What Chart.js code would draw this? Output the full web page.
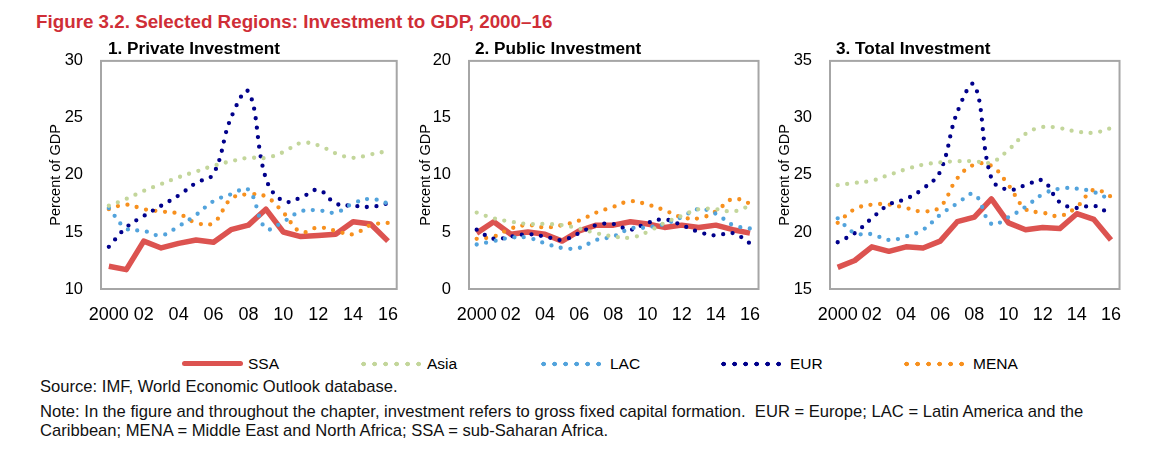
<!DOCTYPE html>
<html>
<head>
<meta charset="utf-8">
<script src="https://cdn.jsdelivr.net/npm/chart.js@4"></script>
<style>
  html, body { margin: 0; padding: 0; background: #ffffff; }
  body { width: 1161px; height: 452px; position: relative; overflow: hidden;
         font-family: 'Liberation Sans', Arial, sans-serif; color: #000; }
  .abs { position: absolute; white-space: nowrap; }
  canvas { position: absolute; }
  .title { left: 36px; top: 13px; font-size: 18.8px; line-height: 18.8px; font-weight: bold; color: #cf2e37; }
  .ptitle { top: 40px; font-size: 17.2px; line-height: 17.2px; font-weight: bold; }
  .leg { top: 356px; font-size: 15.5px; line-height: 15.5px; }
  .mk { position: absolute; top: 361px; height: 6px; }
  .note { left: 40px; font-size: 16.6px; line-height: 19px; color: #111; }
</style>
</head>
<body>
<canvas id="c1" width="376" height="302" style="left:37px;top:33px"></canvas>
<canvas id="c2" width="368" height="302" style="left:407px;top:33px"></canvas>
<canvas id="c3" width="370" height="302" style="left:766px;top:33px"></canvas>

<div class="abs title">Figure 3.2. Selected Regions: Investment to GDP, 2000–16</div>
<div class="abs ptitle" style="left:108px">1. Private Investment</div>
<div class="abs ptitle" style="left:475px">2. Public Investment</div>
<div class="abs ptitle" style="left:836px">3. Total Investment</div>

<div id="legend"></div>

<div class="abs note" style="top:377px">Source: IMF, World Economic Outlook database.</div>
<div class="abs note" style="top:402px">Note: In the figure and throughout the chapter, investment refers to gross fixed capital formation.&nbsp; EUR = Europe; LAC = Latin America and the<br>Caribbean; MENA = Middle East and North Africa; SSA = sub-Saharan Africa.</div>

<script>
// ---------- data ----------
const years = [2000, 2001, 2002, 2003, 2004, 2005, 2006, 2007, 2008, 2009, 2010, 2011, 2012, 2013, 2014, 2015, 2016];
const xTickValues = [2000, 2002, 2004, 2006, 2008, 2010, 2012, 2014, 2016];
const xTickLabels = ['2000', '02', '04', '06', '08', '10', '12', '14', '16'];
const seriesNames = ['SSA', 'Asia', 'LAC', 'EUR', 'MENA'];

// 1. Private investment (percent of GDP)
const ssaPriv  = [12.0, 11.7, 14.2, 13.6, 14.0, 14.3, 14.1, 15.2, 15.6, 17.0, 15.0, 14.6, 14.7, 14.8, 15.9, 15.7, 14.2];
const asiaPriv = [17.3, 17.9, 18.6, 19.2, 19.8, 20.3, 20.8, 21.2, 21.5, 21.5, 22.0, 22.8, 22.6, 21.9, 21.5, 21.8, 22.1];
const lacPriv  = [17.1, 15.3, 15.1, 14.7, 15.5, 16.5, 17.7, 18.3, 18.7, 15.3, 15.9, 16.8, 16.9, 16.7, 17.5, 17.9, 17.5];
const eurPriv  = [13.7, 15.4, 16.4, 17.3, 18.2, 19.3, 20.1, 25.0, 27.3, 19.7, 17.7, 18.0, 18.7, 17.5, 17.3, 17.2, 17.5];
const menaPriv = [17.0, 17.4, 17.0, 16.8, 16.6, 15.8, 15.8, 17.9, 18.3, 18.1, 16.7, 15.0, 15.4, 15.1, 14.8, 15.6, 15.8];

// 2. Public investment
const ssaPub  = [4.9, 5.9, 4.8, 5.0, 4.8, 4.2, 5.1, 5.6, 5.6, 5.9, 5.7, 5.4, 5.6, 5.4, 5.6, 5.2, 4.9];
const asiaPub = [6.7, 6.2, 5.9, 5.7, 5.7, 5.6, 5.3, 4.9, 4.6, 4.5, 5.0, 5.8, 6.4, 7.0, 7.0, 6.8, 7.3];
const lacPub  = [3.9, 4.2, 4.5, 4.5, 4.0, 3.6, 3.6, 4.3, 4.6, 5.3, 5.4, 5.7, 6.3, 7.0, 6.6, 5.6, 5.3];
const eurPub  = [5.2, 4.4, 4.6, 4.8, 4.6, 4.3, 4.9, 5.6, 5.7, 5.2, 5.8, 6.1, 5.6, 5.0, 4.7, 4.9, 4.0];
const menaPub = [4.4, 4.6, 5.3, 5.6, 5.4, 5.6, 6.0, 6.7, 7.2, 7.7, 7.4, 6.9, 6.3, 6.2, 6.8, 7.9, 7.5];

// 3. Total investment
const ssaTot  = [16.9, 17.5, 18.7, 18.3, 18.7, 18.6, 19.2, 20.9, 21.3, 22.9, 20.8, 20.2, 20.4, 20.3, 21.6, 21.1, 19.3];
const asiaTot = [24.1, 24.3, 24.5, 25.0, 25.5, 25.9, 26.1, 26.2, 26.2, 26.1, 27.2, 28.6, 29.2, 29.1, 28.8, 28.7, 29.1];
const lacTot  = [21.2, 19.9, 19.8, 19.3, 19.6, 20.2, 21.5, 22.5, 23.3, 20.7, 21.3, 22.2, 23.3, 23.8, 23.8, 23.5, 22.8];
const eurTot  = [19.1, 19.9, 21.2, 22.4, 22.9, 23.8, 25.3, 30.5, 32.9, 24.7, 23.7, 24.1, 24.5, 22.6, 22.1, 22.3, 21.5];
const menaTot = [20.8, 22.0, 22.4, 22.4, 22.1, 21.8, 22.2, 24.7, 25.9, 25.8, 24.1, 22.0, 21.7, 21.4, 22.2, 23.7, 23.1];

// y-axis ranges per panel
const yRange1 = [10, 30];
const yRange2 = [0, 20];
const yRange3 = [15, 35];

// ---------- styles ----------
const COLORS = { SSA: '#dc5350', Asia: '#c3d69b', LAC: '#52a3dc', EUR: '#00008b', MENA: '#f7901e' };
const FONT = "'Liberation Sans', Arial, sans-serif";
Chart.defaults.font.family = FONT;
Chart.defaults.color = '#000';

function toPts(arr) { return arr.map((v, i) => ({ x: years[i], y: v })); }

function datasets(ssa, asia, lac, eur, mena) {
  const dotted = (name, data) => ({
    label: name, data: toPts(data), borderColor: COLORS[name], backgroundColor: COLORS[name],
    borderWidth: 4.3, borderDash: [0, 9.6], borderCapStyle: 'round', tension: 0.4,
    pointRadius: 0, fill: false
  });
  return [
    dotted('Asia', asia), dotted('LAC', lac), dotted('EUR', eur), dotted('MENA', mena),
    { label: 'SSA', data: toPts(ssa), borderColor: COLORS.SSA, borderWidth: 5.5, tension: 0,
      borderJoinStyle: 'round', borderCapStyle: 'butt', pointRadius: 0, fill: false }
  ];
}

const boxPlugin = {
  id: 'box',
  afterDatasetsDraw(chart) {
    const a = chart.chartArea, ctx = chart.ctx;
    ctx.save();
    ctx.strokeStyle = '#a6a6a6';
    ctx.lineWidth = 2;
    ctx.strokeRect(a.left, a.top, a.right - a.left, a.bottom - a.top);
    ctx.restore();
  }
};

function makeChart(id, range, yWidth, sets) {
  new Chart(document.getElementById(id), {
    type: 'line',
    data: { datasets: sets },
    options: {
      responsive: false, animation: false, devicePixelRatio: 1,
      layout: { padding: { top: 0, right: 0, left: 0, bottom: 0 } },
      plugins: { legend: { display: false }, tooltip: { enabled: false } },
      scales: {
        x: {
          type: 'linear', min: 1999.55, max: 2016.5,
          grid: { display: false, drawTicks: false, tickLength: 0 },
          border: { display: false },
          afterBuildTicks: s => { s.ticks = xTickValues.map(v => ({ value: v })); },
          afterFit: s => { s.height = 46; },
          ticks: { autoSkip: false, maxRotation: 0, padding: 15, font: { size: 18 },
                   callback: (v) => xTickLabels[xTickValues.indexOf(v)] }
        },
        y: {
          min: range[0], max: range[1],
          grid: { display: false, drawTicks: false, tickLength: 0 },
          border: { display: false },
          afterFit: s => { s.width = yWidth; },
          ticks: { stepSize: 5, padding: 18, font: { size: 16.5 } },
          title: { display: true, text: 'Percent of GDP', font: { size: 14.5 }, padding: { top: 10, bottom: 0 } }
        }
      }
    },
    plugins: [boxPlugin]
  });
}

makeChart('c1', yRange1, 64, datasets(ssaPriv, asiaPriv, lacPriv, eurPriv, menaPriv));
makeChart('c2', yRange2, 62, datasets(ssaPub, asiaPub, lacPub, eurPub, menaPub));
makeChart('c3', yRange3, 64, datasets(ssaTot, asiaTot, lacTot, eurTot, menaTot));

// ---------- legend ----------
const legendLayout = [
  { name: 'SSA',  mk: 182, txt: 248 },
  { name: 'Asia', mk: 361, txt: 427 },
  { name: 'LAC',  mk: 541, txt: 610 },
  { name: 'EUR',  mk: 721, txt: 790 },
  { name: 'MENA', mk: 904, txt: 973 }
];
const leg = document.getElementById('legend');
legendLayout.forEach(it => {
  const m = document.createElement('div');
  m.className = 'mk';
  m.style.left = it.mk + 'px';
  if (it.name === 'SSA') {
    m.style.width = '61px'; m.style.top = '361px'; m.style.height = '5px';
    m.style.background = COLORS.SSA; m.style.borderRadius = '2.5px';
  } else {
    m.style.width = '62px';
    m.style.background = `radial-gradient(circle at 2.6px 3px, ${COLORS[it.name]} 2.1px, rgba(255,255,255,0) 2.6px)`;
    m.style.backgroundSize = '11px 6px';
    m.style.backgroundRepeat = 'repeat-x';
  }
  leg.appendChild(m);
  const t = document.createElement('div');
  t.className = 'abs leg';
  t.style.left = it.txt + 'px';
  t.textContent = it.name;
  leg.appendChild(t);
});
</script>
</body>
</html>
